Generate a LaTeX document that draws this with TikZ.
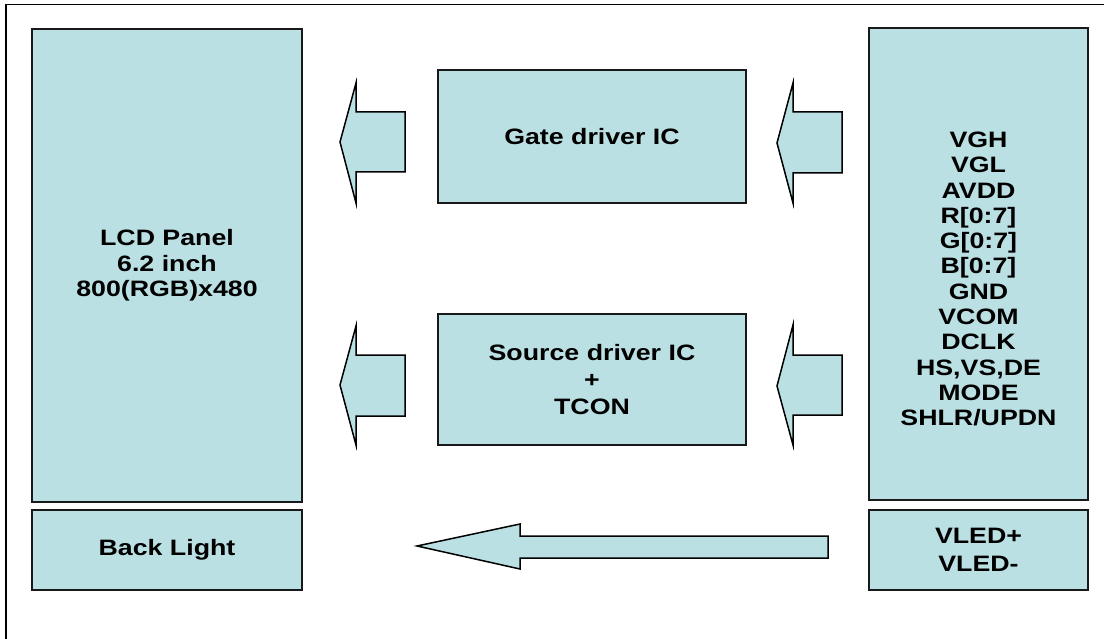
\documentclass[tikz,border=0pt]{standalone}
\usepackage{fontspec}
\setmainfont{Liberation Sans}[FakeStretch=1.2]
\definecolor{panel}{RGB}{187,224,227}
\begin{document}
\begin{tikzpicture}[x=1pt,y=-1pt,
  box/.style={draw=black!90, line width=1.8pt, fill=panel, inner sep=0pt, align=center,
              font=\fontsize{22.3}{25.5}\selectfont\bfseries},
  lbl/.style={inner sep=0pt, align=center, font=\fontsize{22.3}{25.3}\selectfont\bfseries},
  barrow/.style={draw=black, line width=1.5pt, fill=panel, line join=miter}]
\useasboundingbox (0,0) rectangle (1104,639);
% outer frame
\draw[line width=1.8pt] (6,639) -- (6,4.5) -- (1104,4.5);
% boxes
\node[box, minimum width=270, minimum height=473] (lcd) at (167,265.5)
  {LCD Panel\\6.2 inch\\800(RGB)x480};
\node[box, minimum width=270, minimum height=80] (bl) at (167,550) {Back Light};
\node[box, minimum width=308, minimum height=133] (gate) at (592,136.5) {Gate driver IC};
\node[box, minimum width=308, minimum height=131, font=\fontsize{22.3}{27}\selectfont\bfseries] (src) at (592,379.5)
  {Source driver IC\\+\\TCON};
\node[box, minimum width=219, minimum height=472] (sig) at (978.5,264) {};
\node[lbl] (sigtext) at (978.5,279)
  {VGH\\VGL\\AVDD\\R[0:7]\\G[0:7]\\B[0:7]\\GND\\VCOM\\DCLK\\HS,VS,DE\\MODE\\SHLR/UPDN};
\node[box, minimum width=219, minimum height=80, font=\fontsize{22.3}{28}\selectfont\bfseries] (vled) at (978.5,550)
  {VLED+\\VLED-};
% block arrows
\draw[barrow] (340,142) -- (356,83) -- (356,112) -- (405,112) -- (405,172) -- (356,172) -- (356,203) -- cycle;
\draw[barrow] (777,143) -- (793,83) -- (793,112) -- (842,112) -- (842,173) -- (793,173) -- (793,203) -- cycle;
\draw[barrow] (340,385) -- (356,326) -- (356,355) -- (405,355) -- (405,416) -- (356,416) -- (356,445) -- cycle;
\draw[barrow] (777,386) -- (793,325) -- (793,355) -- (842,355) -- (842,415) -- (793,415) -- (793,445) -- cycle;
\draw[barrow] (417,546) -- (520,524) -- (520,536) -- (828,536) -- (828,558) -- (520,558) -- (520,569) -- cycle;
\end{tikzpicture}
\end{document}
